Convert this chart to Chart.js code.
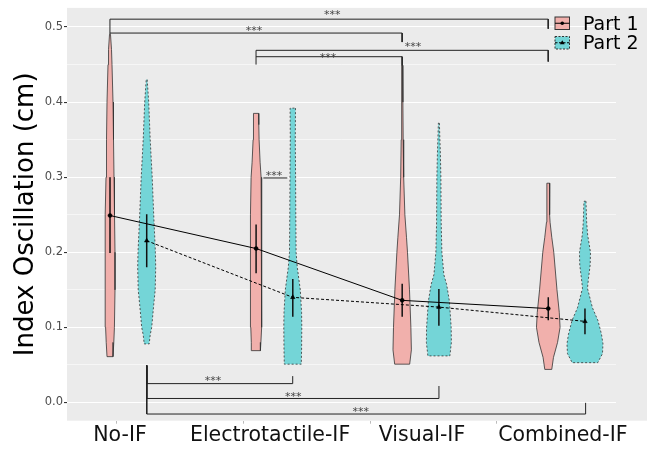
<!DOCTYPE html>
<html>
<head>
<meta charset="utf-8">
<script src="https://cdn.jsdelivr.net/npm/chart.js@4.4.1/dist/chart.umd.min.js"></script>
<style>
  html, body { margin: 0; padding: 0; background: #fff; }
</style>
</head>
<body>
<canvas id="violinChart" width="656" height="449" style="width:656px;height:449px"></canvas>
<script>
// Categories and series
const groups = ['No-IF', 'Electrotactile-IF', 'Visual-IF', 'Combined-IF'];
const seriesNames = ['Part 1', 'Part 2'];

// Axis ticks
const yTicks = [0, 0.05, 0.1, 0.15, 0.2, 0.25, 0.3, 0.35, 0.4, 0.45, 0.5];
const xLabelPos = [0.943, 1.970, 3.010, 3.974];
const xTickMarks = [0.9205, 1.788, 2.655, 3.523];

// Means and error bars
const part1Mean = [0.249, 0.205, 0.136, 0.125];
const part1Low = [0.199, 0.172, 0.114, 0.1095];
const part1High = [0.300, 0.237, 0.158, 0.140];
const part2Mean = [0.2154, 0.140, 0.127, 0.108];
const part2Low = [0.180, 0.1143, 0.102, 0.091];
const part2High = [0.2507, 0.1644, 0.151, 0.125];

// Violin profiles (y level, density half-width)
const p1NoIfY = [0.490, 0.470, 0.450, 0.400, 0.350, 0.300, 0.250, 0.200, 0.150, 0.100, 0.080, 0.061];
const p1NoIfW = [0.5, 1.5, 2, 3, 3.5, 4, 4.5, 5, 5, 4.4, 3.8, 3];
const p2NoIfY = [0.430, 0.400, 0.350, 0.300, 0.250, 0.200, 0.180, 0.150, 0.130, 0.100, 0.090, 0.078];
const p2NoIfW = [0.5, 2, 3.5, 5.5, 7, 8.7, 9, 8.5, 7, 5, 3.5, 2.5];
const p1ElecY = [0.385, 0.370, 0.350, 0.320, 0.300, 0.250, 0.200, 0.150, 0.100, 0.080, 0.069];
const p1ElecW = [2.5, 2.7, 3, 4, 5, 5.5, 5.7, 5.7, 5.3, 4.8, 4.3];
const p2ElecY = [0.392, 0.350, 0.300, 0.250, 0.200, 0.180, 0.160, 0.150, 0.120, 0.100, 0.070, 0.051];
const p2ElecW = [2.7, 2.5, 2.8, 3, 3.3, 4.5, 6.5, 7.5, 8.8, 9, 8.8, 8.5];
const p1VisY = [0.449, 0.400, 0.350, 0.300, 0.250, 0.220, 0.200, 0.150, 0.100, 0.070, 0.051];
const p1VisW = [0.3, 0.7, 1, 1.5, 2.7, 4.3, 5.3, 7.3, 8.7, 9.2, 7.5];
const p2VisY = [0.372, 0.330, 0.300, 0.260, 0.240, 0.200, 0.170, 0.157, 0.135, 0.100, 0.080, 0.062];
const p2VisW = [0.5, 1.5, 2, 2.2, 2.3, 3, 5, 7.8, 10.5, 12.3, 12.5, 11];
const p1CombY = [0.292, 0.270, 0.250, 0.240, 0.220, 0.200, 0.150, 0.120, 0.100, 0.080, 0.060, 0.044];
const p1CombW = [1.5, 1.3, 1.4, 1.8, 3.5, 5.5, 8.7, 11, 11.8, 9.3, 5.2, 3.5];
const p2CombY = [0.268, 0.240, 0.223, 0.200, 0.183, 0.165, 0.152, 0.139, 0.126, 0.109, 0.091, 0.078, 0.065, 0.053];
const p2CombW = [1, 1.7, 2.7, 5.5, 5.2, 3.5, 2.5, 5, 7.5, 13, 16.5, 18, 17.5, 12.8];

// Significance brackets
const bracketX1 = [0.874, 0.874, 1.874, 1.874, 1.924, 1.126, 1.126, 1.126];
const bracketX2 = [3.874, 2.874, 3.874, 2.874, 2.088, 2.125, 3.126, 4.130];
const bracketY = [0.5105, 0.492, 0.469, 0.4605, 0.299, 0.0251, 0.0053, -0.0154];
const bracketLeg1 = [0.490, 0.492, 0.450, 0.4605, 0.299, 0.0492, 0.0492, 0.0492];
const bracketLeg2 = [0.4977, 0.480, 0.454, 0.449, 0.299, 0.0351, 0.0219, -0.0005];
const bracketLabelX = [2.395, 1.860, 2.948, 2.366, 1.997, 1.579, 2.129, 2.590];
const bracketLabelY = [0.519, 0.4977, 0.4768, 0.4621, 0.3052, 0.0325, 0.0110, -0.0092];
const bracketText = ['***', '***', '***', '***', '***', '***', '***', '***'];

const DODGE = 0.1256;
const WIDTH_SCALE = 146.1;
const FONT = 'DejaVu Sans';
const PINK = '#F1B0AC';
const CYAN = '#74D5D7';

Chart.defaults.font.family = FONT;

const violinProfiles = [
    [[p1NoIfY, p1NoIfW], [p1ElecY, p1ElecW], [p1VisY, p1VisW], [p1CombY, p1CombW]],
    [[p2NoIfY, p2NoIfW], [p2ElecY, p2ElecW], [p2VisY, p2VisW], [p2CombY, p2CombW]]
];
const means = [part1Mean, part2Mean];
const lows = [part1Low, part2Low];
const highs = [part1High, part2High];

const xPos = (g, part) => g + 1 + (part === 0 ? -DODGE : DODGE);

// Closed outline of one violin
const violinOutline = (cx, ys, ws) => {
    const right = ys.map((y, i) => ({ x: cx + ws[i] / WIDTH_SCALE, y }));
    const left = ys.map((y, i) => ({ x: cx - ws[i] / WIDTH_SCALE, y })).reverse();
    return [...right, ...left, right[0]];
};

const datasets = [];

// violins
[0, 1].forEach(part => {
    groups.forEach((g, gi) => {
        const [ys, ws] = violinProfiles[part][gi];
        datasets.push({
            data: violinOutline(xPos(gi, part), ys, ws),
            backgroundColor: part ? CYAN : PINK,
            borderColor: '#333',
            borderWidth: 0.8,
            borderDash: part ? [2, 2] : [],
            fill: 'shape',
            pointRadius: 0,
            tension: 0,
            order: 10
        });
    });
});

// error bars
[0, 1].forEach(part => {
    groups.forEach((g, gi) => {
        datasets.push({
            data: [{ x: xPos(gi, part), y: lows[part][gi] }, { x: xPos(gi, part), y: highs[part][gi] }],
            borderColor: '#111',
            borderWidth: 1.5,
            pointRadius: 0,
            fill: false,
            order: 5
        });
    });
});

// mean lines
[0, 1].forEach(part => {
    datasets.push({
        label: seriesNames[part],
        data: groups.map((g, gi) => ({ x: xPos(gi, part), y: means[part][gi] })),
        borderColor: '#000',
        borderWidth: 1,
        borderDash: part ? [3, 2] : [],
        pointStyle: part ? 'triangle' : 'circle',
        pointRadius: part ? 2.6 : 2,
        pointBackgroundColor: '#000',
        pointBorderColor: '#000',
        pointBorderWidth: 0.5,
        fill: false,
        order: 3
    });
});

// brackets
bracketY.forEach((y, i) => {
    datasets.push({
        data: [
            { x: bracketX1[i], y: bracketLeg1[i] },
            { x: bracketX1[i], y },
            { x: bracketX2[i], y },
            { x: bracketX2[i], y: bracketLeg2[i] }
        ],
        borderColor: '#222',
        borderWidth: 1,
        pointRadius: 0,
        fill: false,
        order: 1
    });
});

const isMajor = v => Math.abs(v * 10 - Math.round(v * 10)) < 1e-6;

// panel background (extends under the legend)
const panelPlugin = {
    id: 'panel',
    beforeDraw(chart) {
        const { ctx, chartArea } = chart;
        ctx.save();
        ctx.fillStyle = '#EBEBEB';
        ctx.fillRect(chartArea.left, chartArea.top, chartArea.right + 31 - chartArea.left, chartArea.bottom - chartArea.top);
        ctx.restore();
    }
};

// *** labels
const starsPlugin = {
    id: 'stars',
    afterDatasetsDraw(chart) {
        const { ctx, scales } = chart;
        ctx.save();
        ctx.fillStyle = '#444';
        ctx.font = `11px "${FONT}"`;
        ctx.textAlign = 'center';
        ctx.textBaseline = 'middle';
        bracketText.forEach((t, i) => {
            ctx.fillText(t, scales.x.getPixelForValue(bracketLabelX[i]), scales.y.getPixelForValue(bracketLabelY[i]) + 2.6);
        });
        ctx.restore();
    }
};

// legend keys
const legendPlugin = {
    id: 'keyLegend',
    afterDraw(chart) {
        const { ctx } = chart;
        const boxX = 555, boxW = 14.5, boxH = 12.5;
        const rows = [17, 36.5];
        ctx.save();
        seriesNames.forEach((name, part) => {
            const top = rows[part];
            ctx.fillStyle = part ? CYAN : PINK;
            ctx.fillRect(boxX, top, boxW, boxH);
            ctx.strokeStyle = '#333';
            ctx.lineWidth = 1;
            ctx.setLineDash(part ? [2, 1.5] : []);
            ctx.strokeRect(boxX, top, boxW, boxH);
            ctx.strokeStyle = '#000';
            ctx.setLineDash(part ? [2.5, 1.5] : []);
            ctx.beginPath();
            ctx.moveTo(boxX, top + boxH / 2);
            ctx.lineTo(boxX + boxW, top + boxH / 2);
            ctx.stroke();
            ctx.setLineDash([]);
            ctx.fillStyle = '#000';
            const cx = boxX + boxW / 2, cy = top + boxH / 2;
            ctx.beginPath();
            if (part) {
                ctx.moveTo(cx, cy - 2.5);
                ctx.lineTo(cx + 2.4, cy + 1.6);
                ctx.lineTo(cx - 2.4, cy + 1.6);
                ctx.closePath();
            } else {
                ctx.arc(cx, cy, 1.8, 0, Math.PI * 2);
            }
            ctx.fill();
            ctx.font = `19px "${FONT}"`;
            ctx.textAlign = 'left';
            ctx.textBaseline = 'alphabetic';
            ctx.fillText(name, 583, top + 12.5);
        });
        ctx.restore();
    }
};

const ctx = document.getElementById('violinChart').getContext('2d');
new Chart(ctx, {
    type: 'line',
    data: { datasets },
    options: {
        responsive: false,
        animation: false,
        layout: { padding: { left: 0, right: 40, top: 4, bottom: 0 } },
        plugins: {
            legend: { display: false },
            tooltip: { enabled: false }
        },
        scales: {
            x: {
                type: 'linear',
                position: 'bottom',
                weight: 1,
                min: 0.580,
                max: 4.338,
                afterBuildTicks: scale => { scale.ticks = xLabelPos.map(v => ({ value: v })); },
                afterFit: scale => { scale.height = 28.3; },
                grid: { display: false },
                border: { display: false },
                ticks: {
                    autoSkip: false,
                    maxRotation: 0,
                    padding: -5.5,
                    color: '#111',
                    font: { size: 20.5 },
                    callback: (v, i) => groups[i]
                }
            },
            xt: {
                type: 'linear',
                position: 'bottom',
                weight: 0,
                min: 0.580,
                max: 4.338,
                afterBuildTicks: scale => { scale.ticks = xTickMarks.map(v => ({ value: v })); },
                afterFit: scale => { scale.height = 0; },
                grid: { drawOnChartArea: false, drawTicks: true, tickLength: 3, color: '#bbb' },
                border: { display: false },
                ticks: { display: false }
            },
            y: {
                type: 'linear',
                min: -0.0243,
                max: 0.5255,
                afterBuildTicks: scale => { scale.ticks = yTicks.map(v => ({ value: v })); },
                afterFit: scale => { scale.width = 67; },
                border: { display: false },
                grid: {
                    color: '#fff',
                    lineWidth: c => isMajor(c.tick.value) ? 1.1 : 0.55,
                    tickColor: c => isMajor(c.tick.value) ? '#333' : 'rgba(0,0,0,0)',
                    tickLength: 3,
                    drawTicks: true
                },
                ticks: {
                    autoSkip: false,
                    padding: 1,
                    color: '#4D4D4D',
                    font: { size: 11.5 },
                    callback: v => isMajor(v) ? v.toFixed(1) : ''
                },
                title: {
                    display: true,
                    text: 'Index Oscillation (cm)',
                    color: '#000',
                    font: { size: 26 },
                    padding: { top: 11, bottom: 0 }
                }
            }
        }
    },
    plugins: [panelPlugin, starsPlugin, legendPlugin]
});
</script>
</body>
</html>
